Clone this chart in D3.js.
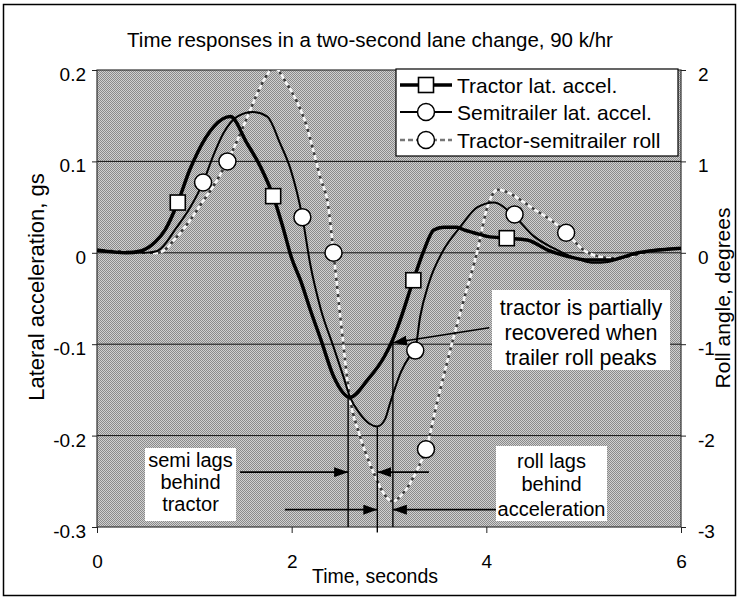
<!DOCTYPE html>
<html>
<head>
<meta charset="utf-8">
<script src="https://cdn.jsdelivr.net/npm/d3@7"></script>
<style>
  body { margin: 0; background: #fff; }
  svg { display: block; font-family: "Liberation Sans", Arial, sans-serif; }
</style>
</head>
<body>
<svg width="739" height="598"></svg>
<script>
// Tractor lateral acceleration (g) against time (s)
var tractorT = [0, 0.3, 0.45, 0.6, 0.7, 0.83, 0.95, 1.03, 1.2, 1.37, 1.54, 1.68, 1.81, 1.91, 2.0, 2.09, 2.2, 2.3, 2.43, 2.6,
                2.78, 2.95, 3.03, 3.09, 3.25, 3.36, 3.46, 3.56, 3.7, 3.77, 3.87, 4.01, 4.21, 4.42, 4.63, 4.84, 5.05, 5.25, 5.56, 6.0];
var tractorG = [0.003, 0, 0.002, 0.012, 0.025, 0.055, 0.09, 0.109, 0.138, 0.149, 0.12, 0.094, 0.062, 0.028, -0.006, -0.03, -0.065, -0.095, -0.135, -0.158,
                -0.139, -0.114, -0.097, -0.081, -0.03, 0.003, 0.025, 0.028, 0.028, 0.025, 0.022, 0.018, 0.016, 0.014, 0.003, -0.004, -0.008, -0.008, 0.0, 0.005];

// Semitrailer lateral acceleration (g)
var semiT = [0, 0.5, 0.62, 0.82, 0.96, 1.09, 1.19, 1.3, 1.44, 1.6, 1.75, 1.88, 1.99, 2.11, 2.19, 2.3, 2.43, 2.53, 2.6, 2.7, 2.8, 2.88,
             2.96, 3.01, 3.12, 3.22, 3.27, 3.32, 3.41, 3.56, 3.73, 3.91, 4.08, 4.27, 4.49, 4.69, 4.97, 5.1, 5.25, 5.45, 5.72, 6.0];
var semiG = [0.002, 0, 0.002, 0.028, 0.05, 0.077, 0.105, 0.131, 0.149, 0.154, 0.149, 0.12, 0.091, 0.039, -0.012, -0.062, -0.103, -0.135, -0.158, -0.176, -0.187, -0.19,
             -0.182, -0.165, -0.131, -0.112, -0.105, -0.07, -0.033, 0.003, 0.028, 0.05, 0.055, 0.042, 0.018, 0.005, -0.008, -0.011, -0.01, -0.004, 0.003, 0.005];

// Tractor-semitrailer roll angle (degrees)
var rollT = [0, 0.6, 0.68, 0.8, 0.96, 1.08, 1.19, 1.34, 1.45, 1.55, 1.65, 1.72, 1.78, 1.82, 1.86, 1.95, 2.06, 2.15, 2.22, 2.3, 2.37, 2.43,
             2.5, 2.6, 2.7, 2.8, 2.86, 2.95, 3.04, 3.12, 3.2, 3.3, 3.38, 3.5, 3.63, 3.77, 3.91, 4.01, 4.12, 4.2, 4.35, 4.5, 4.66, 4.82,
             5.0, 5.15, 5.3, 5.5, 5.7, 6.0];
var rollDeg = [0.03, 0, 0.02, 0.15, 0.36, 0.55, 0.72, 1.0, 1.25, 1.5, 1.75, 1.9, 2.0, 2.05, 2.0, 1.85, 1.64, 1.4, 1.13, 0.8, 0.55, 0.0,
               -0.7, -1.6, -2.0, -2.3, -2.45, -2.64, -2.72, -2.66, -2.55, -2.35, -2.15, -1.61, -1.06, -0.51, 0.03, 0.5, 0.69, 0.67, 0.58, 0.47, 0.36, 0.22,
               0.03, -0.04, -0.06, -0.03, 0.02, 0.05];

// marker positions (every n-th sample in the original plot)
var tractorMarkT = [0.83, 1.81, 3.25, 4.21];
var tractorMarkG = [0.055, 0.062, -0.03, 0.016];
var semiMarkT = [1.09, 2.11, 3.27, 4.29];
var semiMarkG = [0.077, 0.039, -0.107, 0.042];
var rollMarkT = [1.34, 2.43, 3.38, 4.82];
var rollMarkDeg = [1.0, 0.0, -2.15, 0.22];

// tick labels
var xTicks = [0, 2, 4, 6];
var yLeftTicks = [0.2, 0.1, 0, -0.1, -0.2, -0.3];
var yRightTicks = [2, 1, 0, -1, -2, -3];

// lag annotation lines: time, top of line (g)
var lagT = [2.58, 2.88, 3.04];
var lagTop = [-0.158, -0.19, -0.099];

var svg = d3.select("svg");

var x = d3.scaleLinear().domain([0, 6]).range([97, 681]);
var yL = d3.scaleLinear().domain([-0.3, 0.2]).range([527, 70]);
var yR = d3.scaleLinear().domain([-3, 2]).range([527, 70]);

var defs = svg.append("defs");

// halftone looking grey for the plot area
var pat = defs.append("pattern").attr("id", "halftone")
    .attr("width", 2).attr("height", 2).attr("patternUnits", "userSpaceOnUse");
pat.append("rect").attr("width", 2).attr("height", 2).attr("fill", "#d0d0d0");
pat.append("rect").attr("width", 1).attr("height", 1).attr("fill", "#8a8a8a");
pat.append("rect").attr("x", 1).attr("y", 1).attr("width", 1).attr("height", 1).attr("fill", "#8a8a8a");

defs.append("clipPath").attr("id", "plotclip")
  .append("rect").attr("x", 97).attr("y", 70).attr("width", 584).attr("height", 457);

defs.append("marker").attr("id", "arrow")
    .attr("markerUnits", "userSpaceOnUse")
    .attr("markerWidth", 14).attr("markerHeight", 10)
    .attr("refX", 14).attr("refY", 5)
    .attr("orient", "auto")
  .append("path").attr("d", "M0,0 L14,5 L0,10 Z").attr("fill", "#000");

// outer frame
svg.append("rect").attr("x", 3.5).attr("y", 4.5).attr("width", 732).attr("height", 591)
    .attr("fill", "#fff").attr("stroke", "#000").attr("stroke-width", 1.5);

// title
svg.append("text").attr("x", 370).attr("y", 47).attr("text-anchor", "middle")
    .style("font-size", "20.5px").text("Time responses in a two-second lane change, 90 k/hr");

// plot area
svg.append("rect").attr("x", 97).attr("y", 70).attr("width", 584).attr("height", 457)
    .attr("fill", "url(#halftone)");

// gridlines
svg.append("g").selectAll("line")
    .data(yLeftTicks.slice(1, 5))
    .enter().append("line")
    .attr("x1", 97).attr("x2", 681)
    .attr("y1", function(d) { return yL(d); })
    .attr("y2", function(d) { return yL(d); })
    .attr("stroke", "#111").attr("stroke-width", 1);

svg.append("rect").attr("x", 97).attr("y", 70).attr("width", 584).attr("height", 457)
    .attr("fill", "none").attr("stroke", "#333").attr("stroke-width", 1.2);

// axes
var fmtL = function(d) { return d === 0 ? "0" : d3.format(".1f")(d).replace("\u2212", "-"); };

var leftAxis = svg.append("g").attr("transform", "translate(97,0)")
    .call(d3.axisLeft(yL).tickValues(yLeftTicks).tickSize(5).tickPadding(6).tickFormat(fmtL));
var rightAxis = svg.append("g").attr("transform", "translate(681,0)")
    .call(d3.axisRight(yR).tickValues(yRightTicks).tickSize(5).tickPadding(12)
      .tickFormat(function(d) { return String(d).replace("\u2212", "-"); }));
var bottomAxis = svg.append("g").attr("transform", "translate(0,527)")
    .call(d3.axisBottom(x).tickValues(xTicks).tickSize(6).tickPadding(22).tickFormat(d3.format("d")));

[leftAxis, rightAxis, bottomAxis].forEach(function(a) {
  a.select(".domain").remove();
  a.selectAll("line").attr("stroke", "#222");
  a.selectAll("text").attr("fill", "#000").style("font-size", "19px")
      .attr("font-family", "Liberation Sans, Arial, sans-serif");
});
leftAxis.selectAll("text").attr("dy", "0.55em");
rightAxis.selectAll("text").attr("dy", "0.55em");

// axis titles
svg.append("text").attr("transform", "translate(44,287) rotate(-90)")
    .attr("text-anchor", "middle").style("font-size", "22px").text("Lateral acceleration, gs");
svg.append("text").attr("transform", "translate(730,298) rotate(-90)")
    .attr("text-anchor", "middle").style("font-size", "21px").text("Roll angle, degrees");
svg.append("text").attr("x", 375).attr("y", 583).attr("text-anchor", "middle")
    .style("font-size", "19.5px").text("Time, seconds");

// series
var lineG = d3.line().x(function(d) { return x(d[0]); }).y(function(d) { return yL(d[1]); })
    .curve(d3.curveMonotoneX);
var lineR = d3.line().x(function(d) { return x(d[0]); }).y(function(d) { return yR(d[1]); })
    .curve(d3.curveMonotoneX);

var plot = svg.append("g").attr("clip-path", "url(#plotclip)");

plot.append("path").datum(d3.zip(rollT, rollDeg)).attr("d", lineR)
    .attr("fill", "none").attr("stroke", "#3a3a3a").attr("stroke-width", 2.4);
plot.append("path").datum(d3.zip(rollT, rollDeg)).attr("d", lineR)
    .attr("fill", "none").attr("stroke", "#f6f6f6").attr("stroke-width", 2.8)
    .attr("stroke-dasharray", "5,3");
plot.append("path").datum(d3.zip(semiT, semiG)).attr("d", lineG)
    .attr("fill", "none").attr("stroke", "#000").attr("stroke-width", 2);
plot.append("path").datum(d3.zip(tractorT, tractorG)).attr("d", lineG)
    .attr("fill", "none").attr("stroke", "#000").attr("stroke-width", 3.5);

// lag annotation lines
svg.append("g").selectAll("line")
    .data(d3.zip(lagT, lagTop))
    .enter().append("line")
    .attr("x1", function(d) { return x(d[0]); })
    .attr("x2", function(d) { return x(d[0]); })
    .attr("y1", function(d) { return yL(d[1]); })
    .attr("y2", function(d, i) { return i == 1 ? yL(-0.306) : yL(-0.3); })
    .attr("stroke", "#000").attr("stroke-width", 1.4);

// markers
function squares(ts, vs) {
  svg.append("g").selectAll("rect")
    .data(d3.zip(ts, vs))
    .enter().append("rect")
    .attr("x", function(d) { return x(d[0]) - 7.5; })
    .attr("y", function(d) { return yL(d[1]) - 7.5; })
    .attr("width", 15).attr("height", 15)
    .attr("fill", "#fff").attr("stroke", "#000").attr("stroke-width", 1.6);
}
function circles(ts, vs, sc) {
  svg.append("g").selectAll("circle")
    .data(d3.zip(ts, vs))
    .enter().append("circle")
    .attr("cx", function(d) { return x(d[0]); })
    .attr("cy", function(d) { return sc(d[1]); })
    .attr("r", 8.5)
    .attr("fill", "#fff").attr("stroke", "#000").attr("stroke-width", 1.5);
}
circles(rollMarkT, rollMarkDeg, yR);
circles(semiMarkT, semiMarkG, yL);
squares(tractorMarkT, tractorMarkG);

// arrows
var arrows = [
  [[1.47, -0.24], [2.58, -0.24]],
  [[3.41, -0.24], [2.88, -0.24]],
  [[1.93, -0.281], [2.88, -0.281]],
  [[4.11, -0.281], [3.04, -0.281]],
  [[4.03, -0.082], [3.04, -0.0985]]
];
svg.append("g").selectAll("line")
    .data(arrows)
    .enter().append("line")
    .attr("x1", function(d) { return x(d[0][0]); })
    .attr("y1", function(d) { return yL(d[0][1]); })
    .attr("x2", function(d) { return x(d[1][0]); })
    .attr("y2", function(d) { return yL(d[1][1]); })
    .attr("stroke", "#000").attr("stroke-width", 1.6)
    .attr("marker-end", "url(#arrow)");

// text boxes
function textBox(bx, by, bw, bh, lines, ys, size) {
  var g = svg.append("g");
  g.append("rect").attr("x", bx).attr("y", by).attr("width", bw).attr("height", bh).attr("fill", "#fff");
  g.selectAll("text").data(lines).enter().append("text")
    .attr("x", bx + bw / 2)
    .attr("y", function(d, i) { return ys[i]; })
    .attr("text-anchor", "middle")
    .style("font-size", size + "px")
    .text(function(d) { return d; });
}
textBox(145, 448, 91, 73, ["semi lags", "behind", "tractor"], [467, 489, 511], 20);
textBox(496, 446, 111, 75, ["roll lags", "behind", "acceleration"], [468, 491, 516], 20);
textBox(492, 290, 178, 80, ["tractor is partially", "recovered when", "trailer roll peaks"], [315, 340, 365], 21.5);

// legend
var legend = svg.append("g");
legend.append("rect").attr("x", 396).attr("y", 69).attr("width", 282).attr("height", 87)
    .attr("fill", "#fff").attr("stroke", "#000").attr("stroke-width", 1.2);
var legY = [85, 112, 140];
var legNames = ["Tractor lat. accel.", "Semitrailer lat. accel.", "Tractor-semitrailer roll"];
legend.append("line").attr("x1", 400).attr("x2", 452).attr("y1", legY[0]).attr("y2", legY[0])
    .attr("stroke", "#000").attr("stroke-width", 3.5);
legend.append("line").attr("x1", 400).attr("x2", 452).attr("y1", legY[1]).attr("y2", legY[1])
    .attr("stroke", "#000").attr("stroke-width", 2);
legend.append("line").attr("x1", 400).attr("x2", 452).attr("y1", legY[2]).attr("y2", legY[2])
    .attr("stroke", "#777").attr("stroke-width", 2.5).attr("stroke-dasharray", "5,3");
legend.append("rect").attr("x", 426 - 7.5).attr("y", legY[0] - 7.5).attr("width", 15).attr("height", 15)
    .attr("fill", "#fff").attr("stroke", "#000").attr("stroke-width", 1.6);
legend.selectAll("circle").data(legY.slice(1)).enter().append("circle")
    .attr("cx", 426).attr("cy", function(d) { return d; }).attr("r", 8.5)
    .attr("fill", "#fff").attr("stroke", "#000").attr("stroke-width", 1.5);
legend.selectAll("text").data(legNames).enter().append("text")
    .attr("x", 457).attr("y", function(d, i) { return legY[i] + 7.5; })
    .style("font-size", "21px")
    .text(function(d) { return d; });
</script>
</body>
</html>
